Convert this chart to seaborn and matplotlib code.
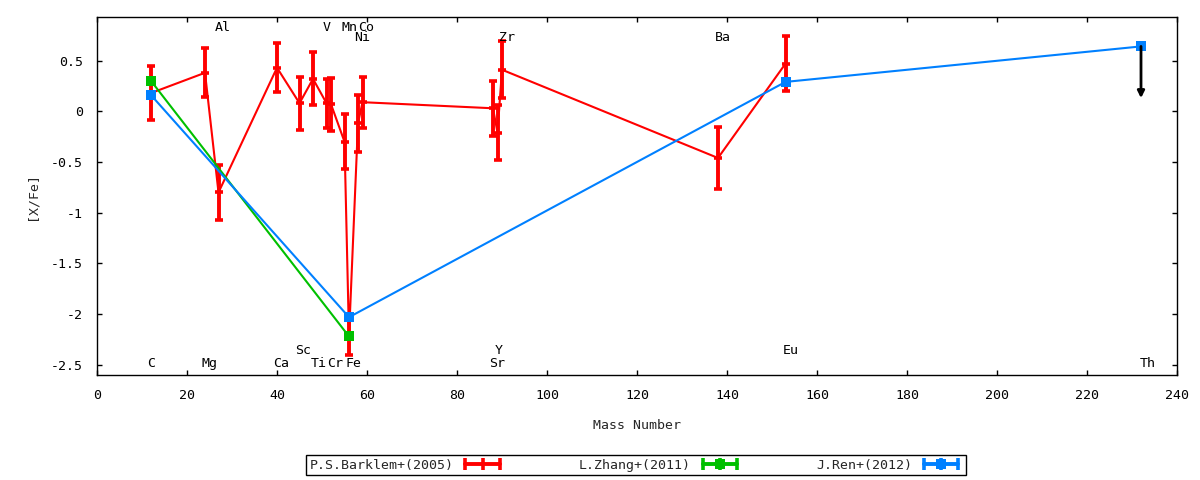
import numpy as np
import pandas as pd
import matplotlib
matplotlib.use("Agg")
import matplotlib.pyplot as plt
import seaborn as sns
from matplotlib.lines import Line2D
from matplotlib.legend_handler import HandlerTuple, HandlerLine2D

# Barklem+(2005): C Mg Al Ca Sc Ti V Cr Mn Fe Ni Co Sr Y Zr Ba Eu
barklem_mass = [12, 24, 27, 40, 45, 48, 51, 52, 55, 56, 58, 59, 88, 89, 90, 138, 153]
barklem_val = [0.18, 0.38, -0.80, 0.43, 0.08, 0.32, 0.08, 0.07, -0.30, -2.22,
               -0.12, 0.09, 0.03, -0.21, 0.41, -0.46, 0.47]
barklem_err = [0.27, 0.24, 0.27, 0.24, 0.26, 0.26, 0.24, 0.26, 0.27, 0.18,
               0.28, 0.25, 0.27, 0.27, 0.28, 0.31, 0.27]

# Zhang+(2011): C Fe
zhang_mass = [12, 56]
zhang_val = [0.30, -2.22]

# Ren+(2012): C Fe Eu Th (Th ist obere Grenze)
ren_mass = [12, 56, 153, 232]
ren_val = [0.16, -2.03, 0.29, 0.64]
th_limit_end = 0.13

# Elementnamen im Plot
elem_names = ["C", "Mg", "Al", "Ca", "Sc", "Ti", "V", "Cr", "Mn", "Fe", "Co", "Ni",
              "Sr", "Y", "Zr", "Ba", "Eu", "Th"]
elem_x = [12.1, 25.1, 27.9, 41.0, 45.9, 49.3, 51.1, 53.0, 56.1, 57.0, 59.8, 59.0,
          89.0, 89.3, 91.0, 139.1, 154.2, 233.4]
elem_y = [-2.49, -2.49, 0.83, -2.49, -2.36, -2.49, 0.83, -2.49, 0.83, -2.49, 0.83, 0.73,
          -2.49, -2.36, 0.73, 0.73, -2.36, -2.49]

red = "#ff0000"
green = "#00c000"
blue = "#0080ff"

sns.set_style("ticks")
plt.rcParams['font.family'] = ['DejaVu Sans Mono', 'DejaVu Sans']
plt.rcParams['font.size'] = 9.5

fig = plt.figure(figsize=(12, 4.8), dpi=100)
ax = fig.add_axes([97 / 1200, 1 - 375 / 480, 1080 / 1200, 358 / 480])

# Barklem
sns.lineplot(x=barklem_mass, y=barklem_val, color=red, lw=1.5, ax=ax,
             sort=False, estimator=None, legend=False)
ax.errorbar(barklem_mass, barklem_val, yerr=barklem_err, fmt='_', color=red,
            ms=6, mew=2.6, elinewidth=2.8, capsize=3, capthick=2.6, zorder=3)

# Zhang
sns.lineplot(x=zhang_mass, y=zhang_val, color=green, lw=1.5, ax=ax,
             sort=False, estimator=None, legend=False, marker='s', markersize=6.5,
             markeredgewidth=0, zorder=4)

# Ren
sns.lineplot(x=ren_mass, y=ren_val, color=blue, lw=1.5, ax=ax,
             sort=False, estimator=None, legend=False, marker='s', markersize=7.5,
             markeredgewidth=0, zorder=5)
ax.annotate("", xy=(ren_mass[-1], th_limit_end), xytext=(ren_mass[-1], ren_val[-1]),
            arrowprops=dict(arrowstyle='-|>', color='black', lw=2, mutation_scale=10,
                            shrinkA=0, shrinkB=0), zorder=6)

for name, x, y in zip(elem_names, elem_x, elem_y):
    ax.text(x, y, name, ha='center', va='center', fontsize=9.5, color='black')

ax.set_xlim(0, 240)
ax.set_ylim(-2.6, 0.93)
ax.set_xticks(np.arange(0, 241, 20))
ax.set_yticks([-2.5, -2, -1.5, -1, -0.5, 0, 0.5])
ax.set_yticklabels(["-2.5", "-2", "-1.5", "-1", "-0.5", "0", "0.5"])
ax.tick_params(direction='in', top=True, right=True, length=3.5, width=1, pad=10,
               colors='black')
for sp in ax.spines.values():
    sp.set_visible(True)
    sp.set_color('black')
    sp.set_linewidth(1)

ax.set_xlabel("Mass Number")
ax.set_ylabel("[X/Fe]")
ax.xaxis.set_label_coords(0.5, -0.122)
ax.yaxis.set_label_coords(-0.054, 0.5)

# Legende im gnuplot-Stil
red_h = Line2D([], [], color=red, lw=2.8, marker='|', ms=8, mew=2.6)
green_l = Line2D([], [], color=green, lw=2.8, marker='|', ms=8, mew=2.6)
green_p = Line2D([], [], color=green, ls='none', marker='s', ms=6.5, mew=0)
blue_l = Line2D([], [], color=blue, lw=2.8, marker='|', ms=8, mew=2.6)
blue_p = Line2D([], [], color=blue, ls='none', marker='s', ms=7.5, mew=0)

leg = ax.legend(handles=[red_h, (green_l, green_p), (blue_l, blue_p)],
                labels=["P.S.Barklem+(2005)", "L.Zhang+(2011)", "J.Ren+(2012)"],
                handler_map={tuple: HandlerTuple(ndivide=1),
                             green_p: HandlerLine2D(numpoints=1),
                             blue_p: HandlerLine2D(numpoints=1)},
                numpoints=3, ncol=3, markerfirst=False, loc='center',
                bbox_to_anchor=(636 / 1200, 1 - 465 / 480), bbox_transform=fig.transFigure,
                frameon=True, fancybox=False, edgecolor='black', framealpha=1,
                handlelength=3.2, handletextpad=0.6, columnspacing=5.7,
                borderpad=0.25, borderaxespad=0)
leg.get_frame().set_linewidth(1)

fig.savefig("out.png", dpi=100)
